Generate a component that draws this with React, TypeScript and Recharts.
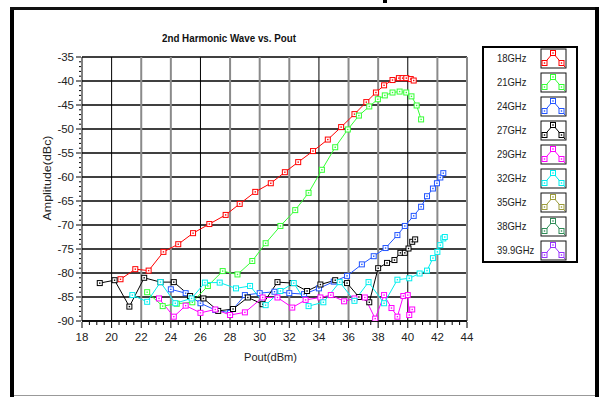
import React from 'react';
import { LineChart, Line, XAxis, YAxis, CartesianGrid } from 'recharts';

// frequencies shown in the legend, with trace colours
const seriesNames = ['18GHz', '21GHz', '24GHz', '27GHz', '29GHz', '32GHz', '35GHz', '38GHz', '39.9GHz'];
const seriesColors = ['#ff0000', '#33ff33', '#2255ff', '#000000', '#ff00ff', '#00eeee', '#9c9c3a', '#2e8b57', '#9933ff'];

const xMajorTicks = [18, 20, 22, 24, 26, 28, 30, 32, 34, 36, 38, 40, 42, 44];
const yMajorTicks = [-90, -85, -80, -75, -70, -65, -60, -55, -50, -45, -40, -35];

// [Pout dBm, amplitude dBc]
const ghz18: [number, number][] = [
  [20.6, -81.3], [21.6, -79.2], [22.5, -79.5], [23.5, -75.6], [24.5, -74.0], [25.5, -71.7],
  [26.6, -69.8], [27.7, -67.9], [28.65, -65.6], [29.7, -63.1], [30.75, -61.3], [31.7, -59.0],
  [32.6, -56.9], [33.6, -54.6], [34.6, -52.2], [35.5, -49.6], [36.4, -46.9], [37.2, -44.4],
  [37.85, -42.4], [38.4, -40.9], [38.97, -39.8], [39.4, -39.4], [39.65, -39.4], [39.9, -39.4],
  [40.2, -39.6], [40.4, -39.9],
];
const ghz21: [number, number][] = [
  [22.4, -84.0], [23.45, -86.9], [24.4, -86.4], [25.45, -86.1], [26.5, -82.7], [27.5, -79.6],
  [28.5, -80.3], [29.5, -77.5], [30.4, -73.8], [31.4, -70.2], [32.4, -66.9], [33.3, -63.3],
  [34.2, -58.5], [35.1, -53.8], [35.95, -50.1], [36.7, -47.2], [37.4, -45.3], [37.98, -43.8],
  [38.45, -43.0], [38.97, -42.4], [39.45, -42.2], [39.9, -42.4], [40.25, -43.2], [40.6, -45.1],
  [40.9, -48.0],
];
const ghz24: [number, number][] = [
  [24.0, -83.4], [25.0, -84.2], [26.0, -86.3], [27.0, -87.7], [28.0, -88.3], [29.0, -84.6],
  [30.0, -84.2], [31.0, -83.9], [32.0, -84.2], [33.0, -84.4], [34.0, -83.2], [35.0, -81.8],
  [35.9, -80.6], [36.9, -78.2], [37.7, -76.5], [38.5, -74.8], [39.3, -72.1], [39.8, -70.2],
  [40.4, -68.1], [40.9, -66.2], [41.3, -64.0], [41.7, -62.4], [41.97, -61.3], [42.2, -60.1],
  [42.4, -59.2],
];
const ghz27: [number, number][] = [
  [19.2, -82.1], [20.2, -81.5], [21.2, -87.0], [22.2, -81.0], [23.3, -81.9], [24.2, -81.9],
  [25.3, -84.8], [26.2, -85.3], [27.2, -87.9], [28.2, -87.5], [29.2, -85.1], [30.2, -86.5],
  [31.2, -81.9], [32.2, -82.1], [33.2, -83.75], [34.1, -82.4], [35.1, -81.5], [35.9, -82.1],
  [36.7, -85.0], [37.4, -86.1], [38.0, -79.0], [38.6, -77.9], [39.1, -77.3], [39.5, -75.8],
  [39.8, -75.8], [40.05, -74.9], [40.3, -73.5], [40.5, -73.0],
];
const ghz29: [number, number][] = [
  [23.2, -85.3], [24.2, -89.1], [25.0, -86.8], [26.0, -88.3], [27.0, -87.6], [28.0, -88.75],
  [29.0, -88.2], [30.2, -85.1], [31.2, -85.1], [32.2, -87.2], [33.1, -85.6], [34.1, -85.1],
  [34.8, -84.6], [35.7, -85.9], [36.4, -85.3], [37.1, -85.1], [37.8, -89.5], [38.4, -84.6],
  [38.9, -87.3], [39.3, -89.1], [39.7, -84.8], [40.0, -84.6], [40.1, -88.75], [40.3, -87.6],
];
const ghz32: [number, number][] = [
  [21.4, -84.6], [22.4, -86.0], [23.3, -81.9], [24.3, -86.3], [25.4, -85.3], [26.3, -82.0],
  [27.3, -82.0], [28.4, -83.2], [29.35, -82.7], [30.4, -86.7], [31.4, -83.75], [32.3, -82.1],
  [33.3, -86.9], [34.3, -86.1], [35.4, -81.9], [36.4, -85.8], [37.35, -81.9], [38.4, -86.3],
  [39.3, -81.4], [40.1, -81.1], [40.8, -80.1], [41.3, -79.5], [41.7, -76.9], [42.0, -75.6],
  [42.2, -74.2], [42.4, -72.8], [42.5, -72.5],
];

const seriesData = [ghz18, ghz21, ghz24, ghz27, ghz29, ghz32];

const W = 599;
const H = 397;
const PLOT_LEFT = 82;
const PLOT_BOTTOM = 321;
const FONT = '"Liberation Sans", Arial, sans-serif';

const xAllTicks: number[] = [];
for (let v = 18; v <= 44; v += 0.5) xAllTicks.push(v);
const yAllTicks: number[] = [];
for (let v = -90; v <= -35; v += 1) yAllTicks.push(v);

const XTick = (props: any) => {
  const { x, payload } = props;
  const v = payload.value;
  const major = xMajorTicks.includes(v);
  return (
    <g>
      <line x1={x} x2={x} y1={PLOT_BOTTOM + 1} y2={PLOT_BOTTOM + (major ? 7 : 4)} stroke="#000" />
      {major && (
        <text x={x} y={PLOT_BOTTOM + 20} textAnchor="middle" fontSize={11.5} fontFamily={FONT} fill="#222">
          {v}
        </text>
      )}
    </g>
  );
};

const YTick = (props: any) => {
  const { y, payload } = props;
  const v = payload.value;
  const major = yMajorTicks.includes(v);
  return (
    <g>
      <line x1={PLOT_LEFT - (major ? 6 : 3)} x2={PLOT_LEFT - 1} y1={y} y2={y} stroke="#000" />
      {major && (
        <text x={PLOT_LEFT - 8} y={y + 4} textAnchor="end" fontSize={11.5} fontFamily={FONT} fill="#222">
          {v}
        </text>
      )}
    </g>
  );
};

const squareDot = (color: string) => (p: any) => {
  const { cx, cy, index } = p;
  if (cx == null || cy == null) return <g key={index} />;
  return (
    <g key={index}>
      <rect x={cx - 2.5} y={cy - 2.5} width={5} height={5} fill="#fff" stroke={color} strokeWidth={1} />
      <rect x={cx - 0.7} y={cy - 0.7} width={1.4} height={1.4} fill={color} />
    </g>
  );
};

const LegendIcon = ({ x, y, color }: { x: number; y: number; color: string }) => (
  <g>
    <rect x={x} y={y} width={25} height={19} fill="#fff" stroke="#111" strokeWidth={1} />
    <polyline
      points={`${x + 1},${y + 17} ${x + 3.5},${y + 14} ${x + 12},${y + 4} ${x + 20.5},${y + 14} ${x + 24},${y + 18}`}
      fill="none"
      stroke={color}
      strokeWidth={1}
    />
    {[[3.5, 14], [12, 4], [20.5, 14]].map(([dx, dy], i) => (
      <g key={i}>
        <rect x={x + dx - 2.5} y={y + dy - 2.5} width={5} height={5} fill="#fff" stroke={color} />
        <rect x={x + dx - 0.7} y={y + dy - 0.7} width={1.4} height={1.4} fill={color} />
      </g>
    ))}
  </g>
);

export default function App() {
  return (
    <div style={{ position: 'absolute', left: 0, top: 0, width: W, height: H, background: '#fff' }}>
      <LineChart width={W} height={H} margin={{ top: 57, right: 132, bottom: 46, left: 0 }}>
        <CartesianGrid vertical={false} horizontalValues={yMajorTicks} stroke="#000" strokeWidth={1.6} />
        <CartesianGrid horizontal={false} verticalValues={[20, 26, 34, 40]} stroke="#000" strokeWidth={1} />
        <CartesianGrid
          horizontal={false}
          verticalValues={[22, 24, 28, 30, 32, 36, 38, 42, 44]}
          stroke="#8a8a8a"
          strokeWidth={2}
        />
        <XAxis
          type="number"
          dataKey="x"
          domain={[18, 44]}
          ticks={xAllTicks}
          interval={0}
          tick={<XTick />}
          tickLine={false}
          axisLine={{ stroke: '#000', strokeWidth: 1.6 }}
          height={30}
          allowDataOverflow
        />
        <YAxis
          type="number"
          dataKey="y"
          domain={[-90, -35]}
          ticks={yAllTicks}
          interval={0}
          tick={<YTick />}
          tickLine={false}
          axisLine={{ stroke: '#000', strokeWidth: 1 }}
          width={82}
          allowDataOverflow
        />
        {seriesData.map((s, i) => (
          <Line
            key={seriesNames[i]}
            data={s.map(([x, y]) => ({ x, y }))}
            dataKey="y"
            type="linear"
            stroke={seriesColors[i]}
            strokeWidth={1}
            dot={squareDot(seriesColors[i])}
            isAnimationActive={false}
            name={seriesNames[i]}
          />
        ))}
      </LineChart>

      <svg width={W} height={H} style={{ position: 'absolute', left: 0, top: 0, pointerEvents: 'none' }}>
        {/* window frame */}
        <rect x={10} y={7} width={4} height={H - 7} fill="#000" />
        <rect x={10} y={7} width={W - 10} height={3} fill="#111" />
        <rect x={595} y={7} width={4} height={H - 7} fill="#000" />
        <line x1={14} x2={595} y1={395.5} y2={395.5} stroke="#999" />
        <rect x={383} y={0} width={4} height={3} fill="#000" />

        <text x={229} y={41.5} textAnchor="middle" fontSize={11.5} fontWeight="bold" fontFamily={FONT}
          textLength={134} lengthAdjust="spacingAndGlyphs" fill="#111">
          2nd Harmonic Wave vs. Pout
        </text>
        <text x={270.5} y={361} textAnchor="middle" fontSize={11.5} fontFamily={FONT} fill="#222"
          textLength={53} lengthAdjust="spacingAndGlyphs">
          Pout(dBm)
        </text>
        <text transform="translate(51,178) rotate(-90)" textAnchor="middle" fontSize={11.5} fontFamily={FONT}
          fill="#222" textLength={85} lengthAdjust="spacingAndGlyphs">
          Amplitude(dBc)
        </text>

        {/* legend */}
        <rect x={483} y={47} width={94} height={215} fill="#fff" stroke="#000" strokeWidth={2} />
        {seriesNames.map((n, i) => (
          <g key={n}>
            <text transform={`translate(497,${62 + i * 24}) scale(0.9,1)`} fontSize={10.5} fontFamily={FONT} fill="#222">
              {n}
            </text>
            <LegendIcon x={541} y={49 + i * 24} color={seriesColors[i]} />
          </g>
        ))}
      </svg>
    </div>
  );
}
